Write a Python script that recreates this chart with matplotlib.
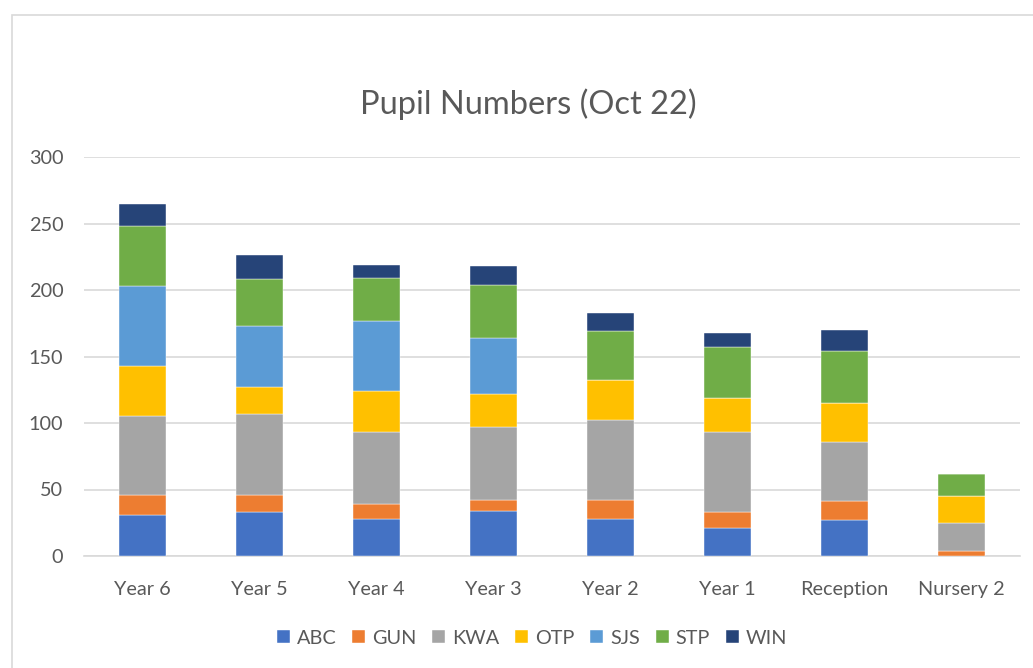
import matplotlib
matplotlib.use("Agg")
import matplotlib.pyplot as plt
import numpy as np
from matplotlib.patches import Rectangle

plt.rcParams["font.family"] = ["Lato", "DejaVu Sans"]

categories = ["Year 6", "Year 5", "Year 4", "Year 3", "Year 2", "Year 1", "Reception", "Nursery 2"]
series_names = ["ABC", "GUN", "KWA", "OTP", "SJS", "STP", "WIN"]
abc = [31, 33, 28, 34, 28, 21, 27, 0]
gun = [15, 13, 11, 8, 14, 12, 14, 4]
kwa = [59, 61, 54, 55, 60, 60, 45, 21]
otp = [38, 20, 31, 25, 30, 26, 29, 20]
sjs = [60, 46, 53, 42, 0, 0, 0, 0]
stp = [45, 35, 32, 40, 37, 38, 39, 17]
win = [17, 18, 10, 14, 14, 11, 16, 0]
colors = ["#4472C4", "#ED7D31", "#A5A5A5", "#FFC000", "#5B9BD5", "#70AD47", "#264478"]

TEXT_COLOR = "#595959"
GRID_COLOR = "#D9D9D9"


def main():
    fig = plt.figure(figsize=(10.33, 6.68), dpi=100)
    fig.patches.append(Rectangle((11.5 / 1033, -0.1), 1.2, 1.1 - 15.5 / 668,
                                 transform=fig.transFigure, fill=False,
                                 edgecolor=GRID_COLOR, linewidth=1.2))
    ax = fig.add_axes([84 / 1033, 112 / 668, (1020 - 84) / 1033, (556 - 157) / 668])

    x = np.arange(len(categories))
    bottom = np.zeros(len(categories))
    all_series = [abc, gun, kwa, otp, sjs, stp, win]
    for name, values, color in zip(series_names, all_series, colors):
        values = np.array(values, dtype=float)
        ax.bar(x, values, width=0.4, bottom=bottom, color=color, label=name,
               edgecolor="white", linewidth=0.3, zorder=3)
        bottom += values

    ax.set_xlim(-0.5, len(categories) - 0.5)
    ax.set_ylim(0, 300)
    ax.set_yticks(range(0, 301, 50))
    ax.set_xticks(x)
    ax.set_xticklabels(categories)
    ax.yaxis.grid(True, color=GRID_COLOR, linewidth=1.2, zorder=0)
    ax.set_axisbelow(True)
    for side in ["top", "right", "left"]:
        ax.spines[side].set_visible(False)
    ax.spines["bottom"].set_color(GRID_COLOR)
    ax.spines["bottom"].set_linewidth(1.2)
    ax.tick_params(axis="both", length=0, labelsize=14.3, colors=TEXT_COLOR)
    ax.tick_params(axis="y", pad=15)
    ax.tick_params(axis="x", pad=18)

    fig.text(0.511, 1 - 104 / 668, "Pupil Numbers (Oct 22)", ha="center", va="center",
             fontsize=23.5, color=TEXT_COLOR)

    fig.legend(loc="center", bbox_to_anchor=(0.515, 1 - 638 / 668), ncol=7, frameon=False,
               fontsize=14.3, labelcolor=TEXT_COLOR, handlelength=0.65, handleheight=0.65,
               handletextpad=0.35, columnspacing=0.8)

    fig.savefig("out.png", dpi=100)
    plt.close(fig)


if __name__ == "__main__":
    main()
